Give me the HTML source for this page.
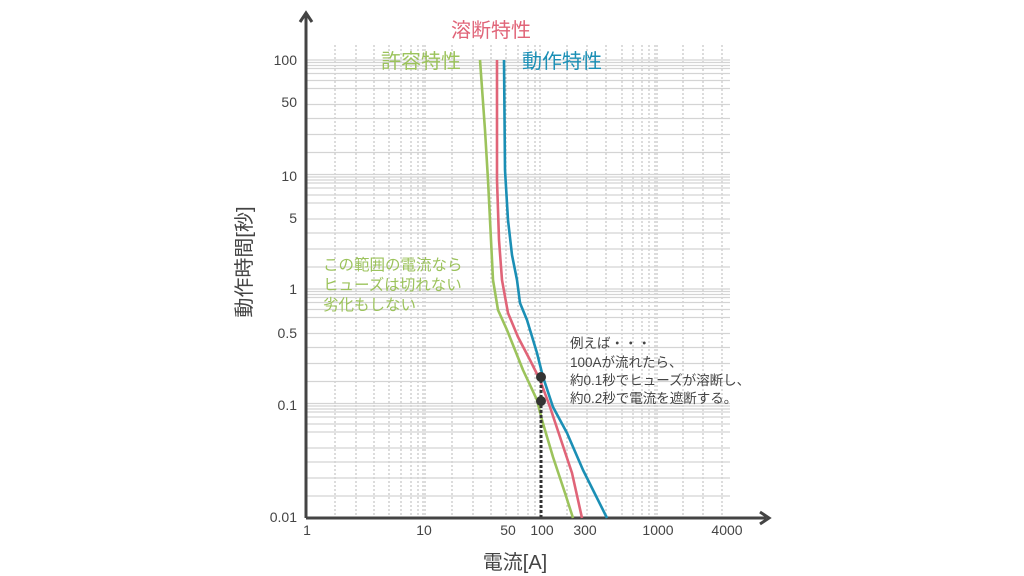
<!DOCTYPE html>
<html><head><meta charset="utf-8"><style>
html,body{margin:0;padding:0;background:#fff;}
svg{display:block;font-family:"Liberation Sans","Noto Sans CJK JP",sans-serif;}
</style></head><body>
<svg width="1024" height="576" viewBox="0 0 1024 576" xmlns="http://www.w3.org/2000/svg">
<g stroke="#b8b8b8" stroke-width="1" stroke-dasharray="2,2">
<path d="M335 45V518M356 45V518M374 45V518M389 45V518M401 45V518M411 45V518M418 45V518M423 45V518M425 45V518
M452 45V518M473 45V518M491 45V518M506 45V518M518 45V518M528 45V518M535 45V518M540 45V518
M567 45V518M587 45V518M606 45V518M622 45V518M633 45V518M642 45V518M649 45V518M655 45V518M657 45V518
M683 45V518M703 45V518M722 45V518"/>
</g>
<g stroke="#d4d4d4" stroke-width="1.3">
<path d="M306 496H730M306 478H730M306 462H730M306 448H730M306 432H730M306 424H730M306 417H730M306 412H730M306 409H730M306 406H730M306 403.5H730
M306 381.5H730M306 363.5H730M306 347.5H730M306 333.5H730M306 317.5H730M306 309.5H730M306 302.5H730M306 297.5H730M306 294.5H730M306 291.5H730M306 289H730
M306 267H730M306 249H730M306 233H730M306 219H730M306 203H730M306 195H730M306 188H730M306 183H730M306 180H730M306 177H730M306 174.5H730
M306 152.5H730M306 134.5H730M306 118.5H730M306 104.5H730M306 88.5H730M306 80.5H730M306 73.5H730M306 68.5H730M306 65.5H730M306 62.5H730M306 60H730"/>
</g>
<g stroke="#444" stroke-width="3" fill="none">
<path d="M306 518V16"/>
<path d="M300 22L306 13L312 22"/>
<path d="M306 518H766"/>
<path d="M760 512L769 518L760 524"/>
</g>
<g fill="none" stroke-width="2.6" stroke-linejoin="round">
<path stroke="#9cc35c" d="M480 60L485 130L488 180L491 240L493 280L498 310L507 330L523 370L537 400L542 420L553 457L565 493L573 518"/>
<path stroke="#e06478" d="M497 60L497 180L499 240L502 280L508 313L518 337L530 360L540 380L550 407L560 437L572 473L582 518"/>
<path stroke="#1b8fb5" d="M504 60L505 170L508 220L512 255L517 280L520 303L527 320L537 353L543 377L553 407L567 433L583 470L593 490L607 518"/>
</g>
<path d="M541 380V517" stroke="#333" stroke-width="3" stroke-dasharray="3,2"/>
<circle cx="541" cy="377" r="5" fill="#333"/>
<circle cx="541" cy="401" r="5" fill="#333"/>
<g fill="#444" font-size="14" text-anchor="end">
<text x="297" y="65">100</text>
<text x="297" y="107">50</text>
<text x="297" y="181">10</text>
<text x="297" y="223">5</text>
<text x="297" y="294">1</text>
<text x="297" y="338">0.5</text>
<text x="297" y="410">0.1</text>
<text x="297" y="522">0.01</text>
</g>
<g fill="#444" font-size="14" text-anchor="middle">
<text x="307" y="535">1</text>
<text x="424" y="535">10</text>
<text x="508" y="535">50</text>
<text x="542" y="535">100</text>
<text x="585" y="535">300</text>
<text x="658" y="535">1000</text>
<text x="727" y="535">4000</text>
</g>
<text x="515" y="569" font-size="20" fill="#444" text-anchor="middle">電流[A]</text>
<text transform="translate(251,262) rotate(-90)" font-size="20" fill="#444" text-anchor="middle">動作時間[秒]</text>
<text x="451" y="37" font-size="20" fill="#e06478">溶断特性</text>
<text x="381" y="68" font-size="20" fill="#9cc35c">許容特性</text>
<text x="522" y="68" font-size="20" fill="#1b8fb5">動作特性</text>
<g fill="#9cc35c" font-size="15.5">
<text x="323" y="270">この範囲の電流なら</text>
<text x="323" y="290">ヒューズは切れない</text>
<text x="323" y="310">劣化もしない</text>
</g>
<g fill="#444" font-size="13.5">
<text x="570" y="348">例えば・・・</text>
<text x="570" y="367">100Aが流れたら、</text>
<text x="570" y="385">約0.1秒でヒューズが溶断し、</text>
<text x="570" y="403">約0.2秒で電流を遮断する。</text>
</g>
</svg>
</body></html>
